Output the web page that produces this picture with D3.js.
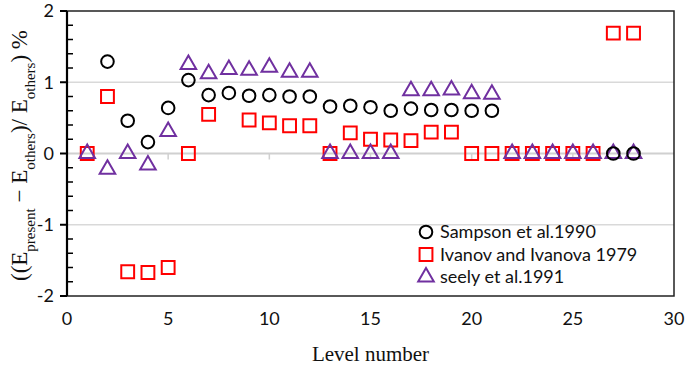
<!DOCTYPE html>
<html>
<head>
<meta charset="utf-8">
<script src="https://cdn.jsdelivr.net/npm/d3@7"></script>
<style>
  html, body { margin: 0; padding: 0; background: #fff; }
  svg { display: block; }
</style>
</head>
<body>
<div id="chart"></div>
<script>
// level numbers and % differences
const sampsonLevels = [2, 3, 4, 5, 6, 7, 8, 9, 10, 11, 12, 13, 14, 15, 16, 17, 18, 19, 20, 21, 27, 28];
const sampsonValues = [1.29, 0.46, 0.16, 0.64, 1.03, 0.82, 0.85, 0.81, 0.82, 0.80, 0.80, 0.66, 0.67, 0.65, 0.60, 0.63, 0.61, 0.61, 0.60, 0.60, 0, 0];

const ivanovLevels = [1, 2, 3, 4, 5, 6, 7, 9, 10, 11, 12, 13, 14, 15, 16, 17, 18, 19, 20, 21, 22, 23, 24, 25, 26, 27, 28];
const ivanovValues = [0, 0.80, -1.66, -1.67, -1.60, 0, 0.55, 0.47, 0.43, 0.39, 0.39, 0, 0.29, 0.20, 0.19, 0.18, 0.30, 0.30, 0, 0, 0, 0, 0, 0, 0, 1.69, 1.69];

const seelyLevels = [1, 2, 3, 4, 5, 6, 7, 8, 9, 10, 11, 12, 13, 14, 15, 16, 17, 18, 19, 20, 21, 22, 23, 24, 25, 26, 27, 28];
const seelyValues = [0, -0.22, 0, -0.16, 0.31, 1.25, 1.12, 1.18, 1.17, 1.21, 1.14, 1.14, 0, 0, 0, 0, 0.88, 0.88, 0.89, 0.84, 0.83, 0, 0, 0, 0, 0, 0, 0];

const xTicks = [0, 5, 10, 15, 20, 25, 30];
const yTicks = [-2, -1, 0, 1, 2];
const seriesNames = ['Sampson et al.1990', 'Ivanov and Ivanova 1979', 'seely et al.1991'];

const W = 685, H = 370;
const MARGIN = { top: 11, right: 11, bottom: 74, left: 67 };
const innerW = W - MARGIN.left - MARGIN.right;
const innerH = H - MARGIN.top - MARGIN.bottom;

const tickFont = 'Lato, Calibri, sans-serif';
const serif = '"Liberation Serif", "Times New Roman", serif';

const svg = d3.select('#chart').append('svg')
  .attr('width', W)
  .attr('height', H);

const x = d3.scaleLinear().domain([0, 30]).range([0, innerW]);
const y = d3.scaleLinear().domain([-2, 2]).range([innerH, 0]);

const g = svg.append('g').attr('transform', `translate(${MARGIN.left},${MARGIN.top})`);

// gridlines at +-1
g.append('g')
  .selectAll('line')
  .data([-1, 1])
  .join('line')
  .attr('x1', 0).attr('x2', innerW)
  .attr('y1', d => y(d)).attr('y2', d => y(d))
  .attr('stroke', '#d9d9d9')
  .attr('stroke-width', 1.5);

// zero line acting as x axis, gray with small ticks
g.append('line')
  .attr('x1', 0).attr('x2', innerW)
  .attr('y1', y(0)).attr('y2', y(0))
  .attr('stroke', '#d0d0d0')
  .attr('stroke-width', 2.2);
g.append('g')
  .selectAll('line')
  .data(xTicks.filter(d => d > 0 && d < 30))
  .join('line')
  .attr('x1', d => x(d)).attr('x2', d => x(d))
  .attr('y1', y(0)).attr('y2', y(0) + 6)
  .attr('stroke', '#d0d0d0')
  .attr('stroke-width', 1.5);

// frame
g.append('rect')
  .attr('x', 0).attr('y', 0)
  .attr('width', innerW).attr('height', innerH)
  .attr('fill', 'none')
  .attr('stroke', '#222')
  .attr('stroke-width', 1.5);

// left axis: major ticks outward, minor ticks inward
const yAxisG = g.append('g');
yAxisG.append('line')
  .attr('x1', 0).attr('x2', 0).attr('y1', 0).attr('y2', innerH)
  .attr('stroke', '#000').attr('stroke-width', 2.2);
yAxisG.selectAll('.major')
  .data(yTicks)
  .join('line')
  .attr('class', 'major')
  .attr('x1', -7).attr('x2', 0)
  .attr('y1', d => y(d)).attr('y2', d => y(d))
  .attr('stroke', '#000').attr('stroke-width', 2);
yAxisG.selectAll('.minor')
  .data(d3.range(-2, 2.001, 0.2).filter(v => Math.abs(v - Math.round(v)) > 0.01))
  .join('line')
  .attr('class', 'minor')
  .attr('x1', 0).attr('x2', 6)
  .attr('y1', d => y(d)).attr('y2', d => y(d))
  .attr('stroke', '#000').attr('stroke-width', 1.5);
yAxisG.selectAll('text')
  .data(yTicks)
  .join('text')
  .attr('x', -13)
  .attr('y', d => y(d))
  .attr('dy', '0.35em')
  .attr('text-anchor', 'end')
  .style('font-family', tickFont)
  .style('font-size', '18px')
  .style('fill', '#111')
  .text(d => d);

// x tick labels below frame
g.append('g')
  .selectAll('text')
  .data(xTicks)
  .join('text')
  .attr('x', d => x(d))
  .attr('y', innerH + 29)
  .attr('text-anchor', 'middle')
  .style('font-family', tickFont)
  .style('font-size', '18px')
  .style('fill', '#111')
  .text(d => d);

// axis titles
svg.append('text')
  .attr('x', MARGIN.left + innerW / 2)
  .attr('y', H - 9)
  .attr('text-anchor', 'middle')
  .style('font-family', serif)
  .style('font-size', '21px')
  .style('fill', '#111')
  .text('Level number');

const yTitle = svg.append('text')
  .attr('transform', `translate(27,${MARGIN.top + innerH / 2 + 2}) rotate(-90)`)
  .attr('text-anchor', 'middle')
  .style('font-family', serif)
  .style('font-size', '23px')
  .style('fill', '#111');
yTitle.append('tspan').text('((E');
yTitle.append('tspan').attr('baseline-shift', 'sub').style('font-size', '15px').text('present');
yTitle.append('tspan').text(' \u2212 E');
yTitle.append('tspan').attr('baseline-shift', 'sub').style('font-size', '15px').text('others');
yTitle.append('tspan').text(')/ E');
yTitle.append('tspan').attr('baseline-shift', 'sub').style('font-size', '15px').text('others');
yTitle.append('tspan').text(') %');

// markers
const circleSym = d3.symbol().type(d3.symbolCircle).size(125);
const squareSym = d3.symbol().type(d3.symbolSquare).size(165);
const triSym = d3.symbol().type(d3.symbolTriangle).size(105);

const series = [
  { name: seriesNames[0], levels: sampsonLevels, values: sampsonValues, sym: circleSym, color: '#000' },
  { name: seriesNames[1], levels: ivanovLevels, values: ivanovValues, sym: squareSym, color: '#ff0000' },
  { name: seriesNames[2], levels: seelyLevels, values: seelyValues, sym: triSym, color: '#7030a0' }
];

// draw order: squares, triangles, then circles on top (as in the figure)
[series[1], series[2], series[0]].forEach(s => {
  g.append('g')
    .selectAll('path')
    .data(s.levels.map((l, i) => [l, s.values[i]]))
    .join('path')
    .attr('transform', d => `translate(${x(d[0])},${y(d[1])})`)
    .attr('d', s.sym)
    .attr('fill', 'none')
    .attr('stroke', s.color)
    .attr('stroke-width', 2);
});

// legend
const legend = svg.append('g').attr('transform', 'translate(426,232)');
series.forEach((s, i) => {
  const row = legend.append('g').attr('transform', `translate(0,${i * 22.5})`);
  row.append('path')
    .attr('d', s.sym)
    .attr('fill', 'none')
    .attr('stroke', s.color)
    .attr('stroke-width', 2);
  row.append('text')
    .attr('x', 14)
    .attr('dy', '0.35em')
    .style('font-family', tickFont)
    .style('font-size', '18px')
    .style('fill', '#111')
    .text(s.name);
});
</script>
</body>
</html>
